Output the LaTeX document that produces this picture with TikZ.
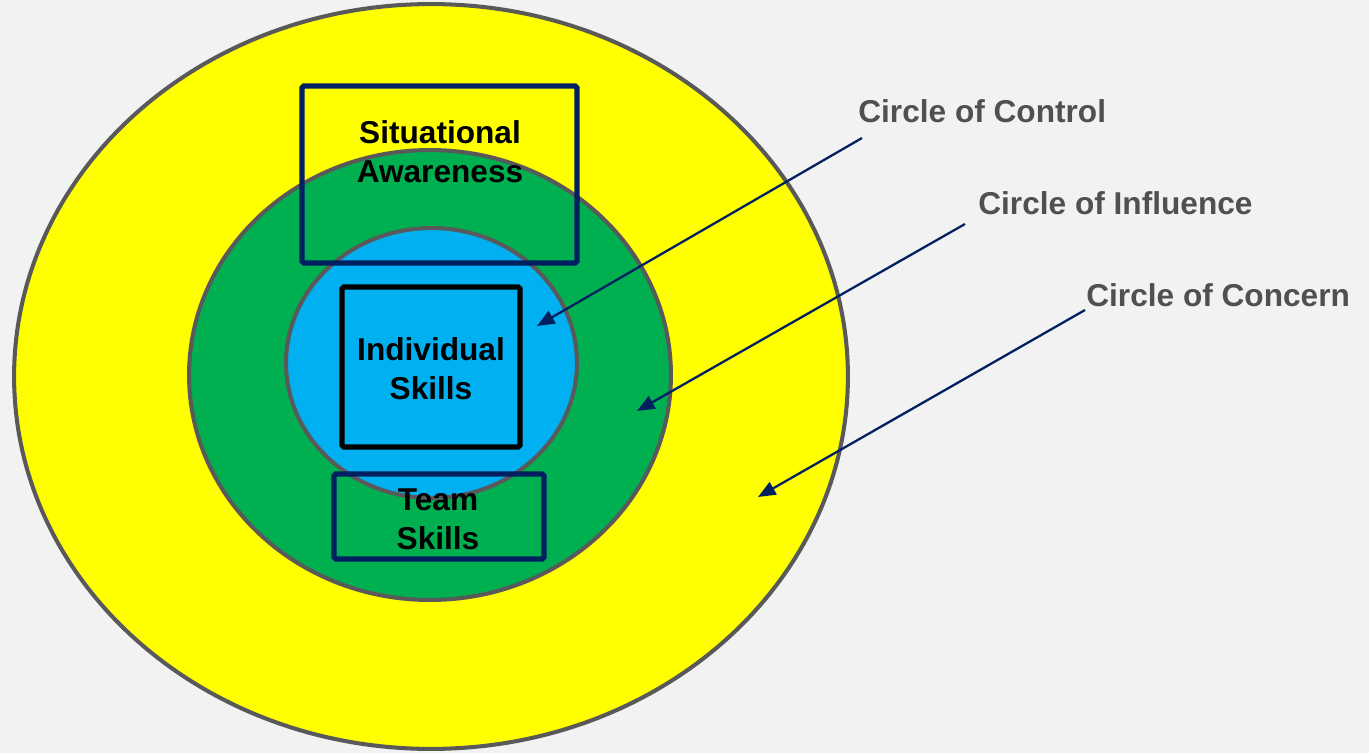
\documentclass[tikz,border=0pt]{standalone}
\usepackage{fontspec}
\setmainfont{Liberation Sans}
\usepackage{tikz}
\usetikzlibrary{arrows.meta,positioning,shapes.geometric}
\definecolor{bgc}{HTML}{F2F2F2}
\definecolor{concernc}{HTML}{FFFF00}
\definecolor{influencec}{HTML}{00B050}
\definecolor{controlc}{HTML}{00B0F0}
\definecolor{rimc}{HTML}{595959}
\definecolor{navyc}{HTML}{002060}
\definecolor{lblc}{HTML}{505050}
\tikzset{
  >={Triangle[length=10pt,width=8pt]},
  ring/.style={ellipse,draw=rimc,line width=2.3pt,inner sep=0pt},
  box/.style={draw=navyc,line width=3pt,rounded corners=1pt,inner sep=0pt,
              font=\fontsize{18}{22.2}\selectfont\bfseries,align=center},
  txt/.style={font=\fontsize{18}{22.2}\selectfont\bfseries,align=center,inner sep=0pt},
  lbl/.style={font=\fontsize{18}{22.2}\selectfont\bfseries,text=lblc,anchor=west,inner sep=0pt},
  ptr/.style={->,line width=1.3pt,draw=navyc,fill=navyc},
}

\begin{document}
\begin{tikzpicture}[x=0.02cm,y=-0.02cm]
  \fill[bgc] (0,0) rectangle (1369,753);
  \useasboundingbox (0,0) rectangle (1369,753);
  % the three circles
  \node[ring,fill=concernc,minimum width=16.68cm,minimum height=14.9cm] (concern) at (431,376.5) {};
  \node[ring,fill=influencec,minimum width=9.64cm,minimum height=9.0cm] (influence) at (430,375) {};
  \node[ring,fill=controlc,minimum width=5.82cm,minimum height=5.4cm] (control) at (431.5,363) {};
  % skill boxes
  \node[box,minimum width=5.5cm,minimum height=3.54cm] (sabox) at (439.5,174.5) {};
  \node[txt] (satxt) at (440,152) {Situational\\Awareness};
  \node[box,draw=black,minimum width=3.56cm,minimum height=3.2cm] (indbox) at (431,367) {};
  \node[txt] (indtxt) at (431,368.5) {Individual\\Skills};
  \node[box,minimum width=4.2cm,minimum height=1.7cm] (teambox) at (439,516.5) {};
  \node[txt] (teamtxt) at (438,519.5) {Team\\Skills};
  % labels and pointers
  \node[lbl] (ctrl) at (858,111) {Circle of Control};
  \node[lbl] (infl) at (978,203) {Circle of Influence};
  \node[lbl] (conc) at (1086,295) {Circle of Concern};
  \coordinate (ctrl-s) at (862,138);  \coordinate (ctrl-t) at (537,326);
  \coordinate (infl-s) at (965,224);  \coordinate (infl-t) at (637,411);
  \coordinate (conc-s) at (1085,310); \coordinate (conc-t) at (758,497);
  \draw[ptr] (ctrl-s) -- (ctrl-t);
  \draw[ptr] (infl-s) -- (infl-t);
  \draw[ptr] (conc-s) -- (conc-t);
\end{tikzpicture}
\end{document}
